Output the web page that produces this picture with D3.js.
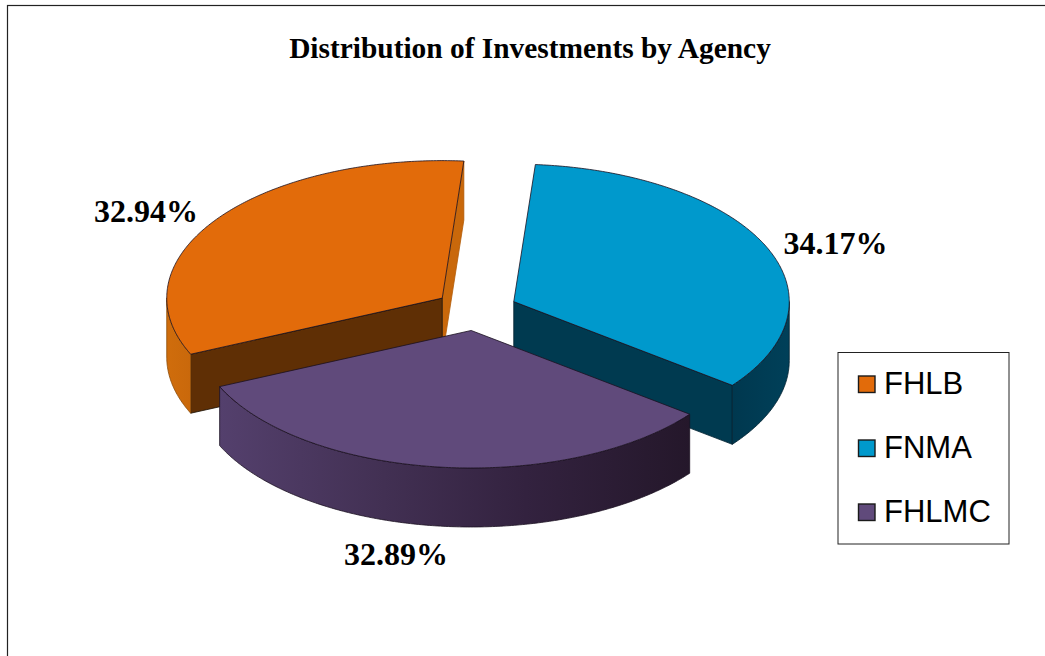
<!DOCTYPE html>
<html>
<head>
<meta charset="utf-8">
<script src="https://cdn.jsdelivr.net/npm/d3@7"></script>
<style>
html,body{margin:0;padding:0;background:#fff;overflow:hidden}
svg{display:block}
</style>
</head>
<body>
<svg id="chart" width="1045" height="656"></svg>
<script>
// Data
const title = "Distribution of Investments by Agency";
const pieCategories = ["FNMA", "FHLMC", "FHLB"];
const pieValues = [34.17, 32.89, 32.94];
const legendOrder = ["FHLB", "FNMA", "FHLMC"];

// Styles and layout
const topColors = {FHLB:"#e26b0a", FNMA:"#0099cc", FHLMC:"#604a7b"};
const W = 1045, H = 656;
const cx = 476, cy = 310, rx = 275.5, ry = 137.5, depth = 59, explode = 0.15;
const startAngle = 4.5 * Math.PI / 180;
const labelPos = {FHLB:[146,222], FNMA:[835.5,254], FHLMC:[396,565]};

const svg = d3.select("#chart");
const defs = svg.append("defs");
function grad(id, stops){
  const g = defs.append("linearGradient").attr("id", id)
    .attr("gradientUnits","userSpaceOnUse")
    .attr("x1",stops.x1).attr("x2",stops.x2).attr("y1",0).attr("y2",0);
  stops.c.forEach(s => g.append("stop").attr("offset",s[0]).attr("stop-color",s[1]));
}
grad("wallFHLMC",{x1:218,x2:692,c:[[0,"#54406d"],[0.35,"#423053"],[0.65,"#33223f"],[1,"#24172a"]]});
grad("wallFHLB",{x1:166,x2:192,c:[[0,"#d06d0c"],[1,"#c9680b"]]});
grad("wallFNMA",{x1:733,x2:790,c:[[0,"#00384f"],[1,"#004059"]]});

// Frame
svg.append("rect").attr("x",7.5).attr("y",5.5).attr("width",W+20).attr("height",H+20)
  .attr("fill","#fff").attr("stroke","#222").attr("stroke-width",1.2);

// Title
svg.append("text").attr("x",530).attr("y",58).attr("text-anchor","middle")
  .attr("font-family","'Liberation Serif',serif").attr("font-weight","bold")
  .attr("font-size",29.4).attr("fill","#000").text(title);

// Pie geometry from d3 layout
const pie = d3.pie().sort(null).startAngle(startAngle).endAngle(startAngle + 2*Math.PI);
const arcs = pie(pieValues).map((d,i) => ({name:pieCategories[i], a0:d.startAngle, a1:d.endAngle}));
const sx = d3.scaleLinear().domain([-1,1]).range([-rx,rx]);
const sy = d3.scaleLinear().domain([-1,1]).range([-ry,ry]);

arcs.forEach(s => {
  const m = (s.a0+s.a1)/2;
  s.x = cx + sx(Math.sin(m)*explode);
  s.y = cy + sy(-Math.cos(m)*explode);
  s.pt = a => [s.x + sx(Math.sin(a)), s.y + sy(-Math.cos(a))];
});
function rim(s,a0,a1,dy){
  const n = Math.max(2,Math.ceil(Math.abs(a1-a0)/0.01));
  return d3.range(n+1).map(i => {
    const p = s.pt(a0+(a1-a0)*i/n);
    return [p[0],p[1]+dy];
  });
}
const line = d3.line();
const edge = "#1a1208";

function drawWall(g,pts,fill,stroke){
  g.append("path").attr("d",line(pts)+"Z").attr("fill",fill)
   .attr("stroke",stroke||edge).attr("stroke-width",0.8).attr("stroke-linejoin","round");
}

const byName = Object.fromEntries(arcs.map(s=>[s.name,s]));
const orderDraw = ["FHLB","FNMA","FHLMC"];
const cutColors = {FHLB:"#5f2f05", FNMA:"#003a50", FHLMC:"#3a2a4a"};
const sideCut = {FHLB:"#c9680b"};

orderDraw.forEach(name => {
  const s = byName[name];
  const g = svg.append("g").attr("class","slice-"+name);
  const apex = [s.x,s.y], apexB = [s.x,s.y+depth];
  // cut faces
  if(name==="FHLB"){
    const e = s.pt(s.a1);
    drawWall(g,[apex,e,[e[0],e[1]+depth],apexB],sideCut.FHLB,"#b35c08");
    const b = s.pt(s.a0);
    drawWall(g,[apex,b,[b[0],b[1]+depth],apexB],cutColors.FHLB);
    const vis = rim(s,s.a0,Math.PI*1.5,0);
    const visB = rim(s,Math.PI*1.5,s.a0,depth);
    drawWall(g,vis.concat(visB),"url(#wallFHLB)","#8a4a08");
  }
  if(name==="FNMA"){
    const e = s.pt(s.a1);
    drawWall(g,[apex,e,[e[0],e[1]+depth],apexB],cutColors.FNMA,"#00202e");
    const vis = rim(s,Math.PI/2,s.a1,0);
    const visB = rim(s,s.a1,Math.PI/2,depth);
    drawWall(g,vis.concat(visB),"url(#wallFNMA)","#00202e");
  }
  if(name==="FHLMC"){
    const vis = rim(s,s.a0,s.a1,0);
    const visB = rim(s,s.a1,s.a0,depth);
    drawWall(g,vis.concat(visB),"url(#wallFHLMC)","#1c1222");
  }
  // top
  const top = [apex].concat(rim(s,s.a0,s.a1,0));
  g.append("path").attr("d",line(top)+"Z").attr("fill",topColors[name])
   .attr("stroke","#1a1020").attr("stroke-width",0.8).attr("stroke-linejoin","round");
});

// Data labels
arcs.forEach(s => {
  const i = pieCategories.indexOf(s.name);
  svg.append("text").attr("x",labelPos[s.name][0]).attr("y",labelPos[s.name][1])
    .attr("text-anchor","middle").attr("font-family","'Liberation Serif',serif")
    .attr("font-weight","bold").attr("font-size",32).attr("fill","#000")
    .text(pieValues[i].toFixed(2)+"%");
});

// Legend
svg.append("rect").attr("x",838).attr("y",352.5).attr("width",171).attr("height",191.5)
  .attr("fill","#fff").attr("stroke","#222").attr("stroke-width",1);
const legendY = d3.scalePoint().domain(legendOrder).range([394,522]);
const lg = svg.selectAll(".lg").data(legendOrder).join("g").attr("class","lg");
lg.append("rect").attr("x",858.5).attr("y",d=>legendY(d)-18).attr("width",16.5).attr("height",16.5)
  .attr("fill",d=>topColors[d]).attr("stroke","#1a1a1a").attr("stroke-width",1.4);
lg.append("text").attr("x",884).attr("y",d=>legendY(d)).attr("font-family","'Liberation Sans',Arial,sans-serif")
  .attr("font-size",31).attr("fill","#000").text(d=>d);
</script>
</body>
</html>
